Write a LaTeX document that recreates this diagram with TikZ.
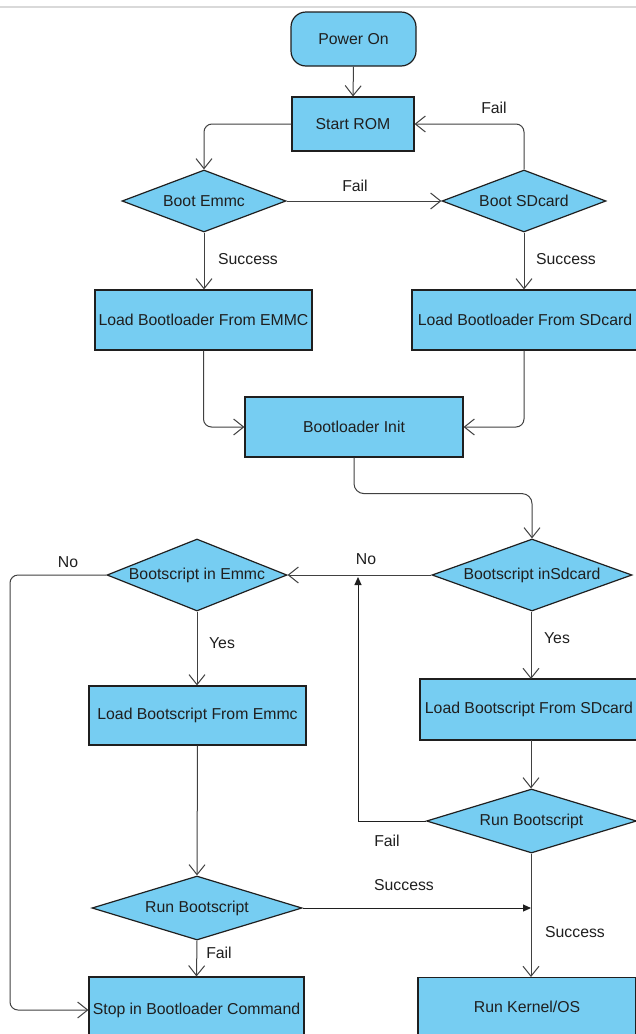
\documentclass[tikz,border=0pt]{standalone}
\usepackage{fontspec}
\setmainfont{Liberation Sans}
\usetikzlibrary{shapes.geometric,arrows.meta}
\definecolor{boxblue}{HTML}{76CDF2}
\definecolor{ink}{HTML}{1F1F1F}
\begin{document}
\begin{tikzpicture}[x=1pt,y=-1pt,
  every node/.style={font=\fontsize{15.8}{18}\selectfont, text=ink},
  proc/.style={draw=ink, line width=1.2pt, fill=boxblue, inner sep=0pt},
  term/.style={proc, rounded corners=15pt},
  dia/.style={draw=ink, line width=1.2pt, fill=boxblue, shape=diamond, inner sep=0pt},
  conn/.style={draw=ink!85, line width=1pt, -{Straight Barb[length=10pt,width=16pt]}},
  fconn/.style={draw=ink, line width=1pt, -{Triangle[length=8pt,width=7pt]}},
  lbl/.style={inner sep=0pt}
]
\path[use as bounding box] (0,0) rectangle (636,1034);
\clip (0,0) rectangle (636,1034);
\fill[white] (0,0) rectangle (636,1034);
\draw[black!15, line width=1.5pt] (0,7) -- (636,7);

% nodes
\node[term, minimum width=125pt, minimum height=54pt] (pwr) at (353.5,39) {Power On};
\node[proc, minimum width=122pt, minimum height=54pt] (srom) at (353,124) {Start ROM};
\node[dia, minimum width=164pt, minimum height=62pt] (bemmc) at (204,201) {\makebox[0pt]{Boot Emmc}};
\node[dia, minimum width=164pt, minimum height=62pt] (bsd) at (524,201) {\makebox[0pt]{Boot SDcard}};
\node[proc, minimum width=217pt, minimum height=60pt] (lbe) at (203.5,320) {Load Bootloader From EMMC};
\node[proc, minimum width=226pt, minimum height=60pt] (lbs) at (525,320) {Load Bootloader From SDcard};
\node[proc, minimum width=218pt, minimum height=60pt] (binit) at (354,427) {Bootloader Init};
\node[dia, minimum width=200pt, minimum height=72pt] (bss) at (532,575) {\makebox[0pt]{Bootscript inSdcard}};
\node[dia, minimum width=180pt, minimum height=72pt] (bse) at (197,575) {\makebox[0pt]{Bootscript in Emmc}};
\node[proc, minimum width=217pt, minimum height=59pt] (lse) at (197.5,715.5) {Load Bootscript From Emmc};
\node[proc, minimum width=218pt, minimum height=61pt] (lss) at (529,709.5) {Load Bootscript From SDcard};
\node[dia, minimum width=210pt, minimum height=64pt] (rbr) at (531.5,821) {\makebox[0pt]{Run Bootscript}};
\node[dia, minimum width=210pt, minimum height=64pt] (rbl) at (197,908) {\makebox[0pt]{Run Bootscript}};
\node[proc, minimum width=215pt, minimum height=66pt] (stop) at (196.5,1010) {Stop in Bootloader Command};
\node[proc, minimum width=218pt, minimum height=60pt, anchor=north] (kern) at (527,977) {};
\node at (527,1007) (kernt) {Run Kernel/OS};

\coordinate (failend) at (358,577);
\coordinate (junc) at (531,908);
\coordinate (noturn) at (10,575);

% connectors
\draw[conn] (pwr.south) -- (srom.north);
\draw[conn, rounded corners=8pt] (srom.west) -| (bemmc.north);
\draw[conn] (bemmc.east) -- (bsd.west);
\draw[conn, rounded corners=8pt] (bsd.north) |- (srom.east);
\draw[conn] (bemmc.south) -- (bemmc.south |- lbe.north);
\draw[conn] (bsd.south) -- (bsd.south |- lbs.north);
\draw[conn, rounded corners=8pt] (lbe.south) |- (binit.west);
\draw[conn, rounded corners=8pt] (lbs.south -| bsd.south) |- (binit.east);
\draw[conn, rounded corners=10pt] (binit.south) -- ++(0,36) -| (bss.north);
\draw[conn] (bss.west) -- (bse.east);
\draw[conn, rounded corners=8pt] (bse.west) -- (noturn) |- (stop.west);
\draw[conn] (bse.south) -- (bse.south |- lse.north);
\draw[conn] (bss.south -| 531,0) -- (531,679);
\draw[conn] (lse.south) -- (rbl.north);
\draw[conn] (531,740) -- (rbr.north -| 531,0);
\draw[fconn] (rbr.west) -| (failend);
\draw[conn] (rbr.south -| 531,0) -- (531,977);
\draw[fconn] (rbl.east) -- (junc);
\draw[conn] (rbl.south) -- (stop.north);

% labels
\node[lbl] (l1) at (355,186) {Fail};
\node[lbl] (l2) at (494,108) {Fail};
\node[lbl] (l3) at (248,259) {Success};
\node[lbl] (l4) at (566,259) {Success};
\node[lbl] (l5) at (68,562) {No};
\node[lbl] (l6) at (366,559) {No};
\node[lbl] (l7) at (222,643) {Yes};
\node[lbl] (l8) at (557,638) {Yes};
\node[lbl] (l9) at (387,841) {Fail};
\node[lbl] (l10) at (404,885) {Success};
\node[lbl] (l11) at (575,932) {Success};
\node[lbl] (l12) at (219,953) {Fail};
\end{tikzpicture}
\end{document}
